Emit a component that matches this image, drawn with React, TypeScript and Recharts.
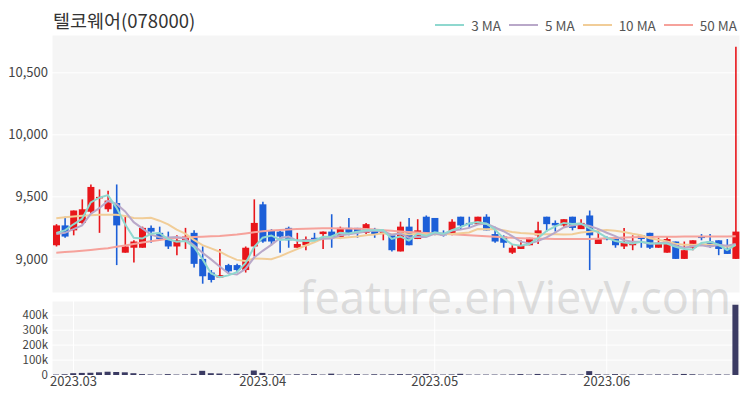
import React from 'react';
import { ComposedChart, Bar, Line, XAxis, YAxis, CartesianGrid } from 'recharts';

const dates = [
  '2023-02-27','2023-02-28','2023-03-02','2023-03-03','2023-03-06','2023-03-07','2023-03-08','2023-03-09','2023-03-10','2023-03-13',
  '2023-03-14','2023-03-15','2023-03-16','2023-03-17','2023-03-20','2023-03-21','2023-03-22','2023-03-23','2023-03-24','2023-03-27',
  '2023-03-28','2023-03-29','2023-03-30','2023-03-31','2023-04-03','2023-04-04','2023-04-05','2023-04-06','2023-04-07','2023-04-10',
  '2023-04-11','2023-04-12','2023-04-13','2023-04-14','2023-04-17','2023-04-18','2023-04-19','2023-04-20','2023-04-21','2023-04-24',
  '2023-04-25','2023-04-26','2023-04-27','2023-04-28','2023-05-02','2023-05-03','2023-05-04','2023-05-08','2023-05-09','2023-05-10',
  '2023-05-11','2023-05-12','2023-05-15','2023-05-16','2023-05-17','2023-05-18','2023-05-19','2023-05-22','2023-05-23','2023-05-24',
  '2023-05-25','2023-05-26','2023-05-30','2023-05-31','2023-06-01','2023-06-02','2023-06-05','2023-06-07','2023-06-08','2023-06-09',
  '2023-06-12','2023-06-13','2023-06-14','2023-06-15','2023-06-16','2023-06-19','2023-06-20','2023-06-21','2023-06-22','2023-06-23',
];

const opens = [
  9110, 9270, 9230, 9290, 9380, 9490, 9400, 9450, 9050, 9090,
  9090, 9250, 9210, 9170, 9100, 9150, 9210, 9000, 8890, 8850,
  8950, 8950, 8910, 9100, 9440, 9230, 9220, 9250, 9090, 9110,
  9170, 9200, 9220, 9170, 9250, 9250, 9210, 9230, 9200, 9190,
  9060, 9260, 9160, 9340, 9330, 9210, 9200, 9340, 9290, 9280,
  9340, 9200, 9180, 9050, 9080, 9110, 9190, 9340, 9290, 9270,
  9340, 9240, 9350, 9120, 9170, 9160, 9100, 9110, 9190, 9210,
  9090, 9050, 9140, 9000, 9090, 9180, 9140, 9150, 9080, 9000,
];
const highs = [
  9280, 9340, 9390, 9480, 9600, 9560, 9550, 9600, 9340, 9150,
  9260, 9270, 9260, 9220, 9190, 9250, 9230, 9100, 8910, 9080,
  8960, 8960, 9100, 9480, 9460, 9240, 9230, 9260, 9210, 9180,
  9210, 9220, 9360, 9260, 9330, 9250, 9290, 9250, 9220, 9200,
  9300, 9330, 9320, 9350, 9330, 9230, 9320, 9340, 9340, 9340,
  9360, 9260, 9190, 9110, 9150, 9170, 9300, 9340, 9310, 9320,
  9340, 9320, 9390, 9240, 9180, 9170, 9250, 9190, 9190, 9210,
  9170, 9180, 9140, 9140, 9150, 9200, 9200, 9150, 9160, 10710,
];
const lows = [
  9100, 9170, 9190, 9280, 9370, 9210, 9380, 8950, 9050, 8970,
  9090, 9130, 9150, 9080, 9030, 9080, 8930, 8800, 8810, 8850,
  8880, 8890, 8890, 9020, 9130, 9110, 9050, 9090, 9090, 9070,
  9150, 9080, 9090, 9160, 9190, 9170, 9200, 9170, 9150, 9060,
  9060, 9110, 9160, 9210, 9190, 9180, 9190, 9240, 9250, 9280,
  9230, 9130, 9090, 9040, 9080, 9110, 9120, 9220, 9220, 9260,
  9230, 9240, 8910, 9120, 9150, 9090, 9080, 9070, 9090, 9080,
  9090, 9050, 9000, 9000, 9070, 9150, 9090, 9030, 9040, 9000,
];
const closes = [
  9270, 9180, 9390, 9400, 9580, 9500, 9470, 9270, 9100, 9140,
  9250, 9220, 9160, 9100, 9150, 9180, 8960, 8860, 8830, 8870,
  8900, 8910, 9090, 9290, 9140, 9140, 9180, 9150, 9120, 9160,
  9160, 9220, 9170, 9250, 9200, 9210, 9280, 9200, 9220, 9070,
  9260, 9110, 9230, 9210, 9200, 9190, 9300, 9270, 9280, 9340,
  9230, 9140, 9130, 9090, 9110, 9170, 9230, 9280, 9270, 9320,
  9250, 9290, 9190, 9160, 9160, 9110, 9130, 9130, 9160, 9090,
  9130, 9160, 9000, 9070, 9150, 9170, 9100, 9080, 9040, 9220,
];
const volumes = [
  3000, 5000, 12000, 14000, 15000, 18000, 22000, 20000, 18000, 12000,
  6000, 4000, 3000, 6000, 3000, 4000, 8000, 28000, 12000, 10000,
  4000, 8000, 6000, 30000, 14000, 4000, 6000, 3000, 5000, 4000,
  6000, 3000, 9000, 3000, 4000, 6000, 3000, 5000, 4000, 5000,
  6000, 5000, 4000, 7000, 4000, 3000, 4000, 8000, 3000, 3000,
  3000, 3000, 3000, 4000, 6000, 3000, 7000, 4000, 3000, 5000,
  3000, 4000, 26000, 5000, 3000, 6000, 3000, 3000, 5000, 3000,
  4000, 3000, 5000, 7000, 5000, 3000, 3000, 4000, 3000, 470000,
];
const ma3 = [
  9210, 9230, 9279, 9323, 9455, 9493, 9514, 9413, 9279, 9170,
  9164, 9202, 9209, 9158, 9138, 9144, 9097, 8998, 8882, 8853,
  8867, 8893, 8965, 9095, 9171, 9189, 9153, 9158, 9151, 9144,
  9147, 9178, 9181, 9210, 9204, 9219, 9230, 9231, 9232, 9161,
  9181, 9147, 9202, 9186, 9215, 9202, 9231, 9256, 9285, 9297,
  9283, 9237, 9167, 9117, 9106, 9120, 9167, 9225, 9261, 9290,
  9281, 9286, 9246, 9214, 9171, 9144, 9133, 9124, 9139, 9126,
  9124, 9124, 9097, 9079, 9075, 9129, 9138, 9115, 9072, 9113,
];
const ma5 = [
  9200, 9210, 9240, 9270, 9363, 9409, 9467, 9443, 9383, 9296,
  9246, 9195, 9174, 9173, 9176, 9162, 9110, 9049, 8996, 8939,
  8883, 8874, 8919, 9011, 9065, 9113, 9167, 9180, 9147, 9151,
  9155, 9162, 9165, 9190, 9198, 9208, 9221, 9228, 9222, 9195,
  9205, 9171, 9178, 9177, 9204, 9190, 9228, 9236, 9250, 9277,
  9285, 9253, 9223, 9184, 9139, 9125, 9143, 9174, 9211, 9253,
  9270, 9282, 9265, 9242, 9211, 9183, 9150, 9138, 9138, 9123,
  9126, 9132, 9107, 9090, 9102, 9110, 9098, 9113, 9106, 9121,
];
const ma10 = [
  9328, 9335, 9342, 9348, 9352, 9355, 9356, 9355, 9345, 9329,
  9328, 9331, 9308, 9278, 9236, 9204, 9153, 9111, 9085, 9058,
  9022, 8992, 8984, 9003, 9002, 8998, 9020, 9050, 9079, 9108,
  9134, 9164, 9172, 9168, 9174, 9181, 9191, 9196, 9206, 9197,
  9206, 9196, 9203, 9199, 9199, 9198, 9200, 9207, 9213, 9240,
  9238, 9240, 9230, 9217, 9208, 9205, 9198, 9198, 9198, 9196,
  9198, 9213, 9219, 9227, 9232, 9227, 9216, 9202, 9190, 9167,
  9154, 9141, 9122, 9114, 9113, 9118, 9115, 9110, 9098, 9112,
];
const ma50 = [
  9050, 9055, 9060, 9066, 9072, 9079, 9086, 9097, 9108, 9120,
  9132, 9142, 9152, 9162, 9168, 9172, 9176, 9179, 9182, 9185,
  9190, 9196, 9205, 9215, 9222, 9228, 9233, 9237, 9240, 9243,
  9245, 9247, 9247, 9246, 9245, 9243, 9240, 9236, 9231, 9226,
  9221, 9216, 9212, 9208, 9205, 9202, 9198, 9194, 9190, 9186,
  9182, 9178, 9174, 9170, 9167, 9165, 9163, 9162, 9161, 9160,
  9160, 9160, 9161, 9163, 9166, 9169, 9172, 9174, 9176, 9177,
  9178, 9179, 9179, 9180, 9180, 9180, 9181, 9181, 9181, 9182,
];

const monthTicks = ['2023-03-02', '2023-04-03', '2023-05-02', '2023-06-01'];
const priceTicks = [9000, 9500, 10000, 10500];
const volumeTicks = [0, 100000, 200000, 300000, 400000];

const seriesNames = ['3 MA', '5 MA', '10 MA', '50 MA'];
const seriesColors = ['#8fd8cf', '#b9a8c9', '#f1cd98', '#f6a29b'];

const UP = '#e8161b';
const DOWN = '#1c5fd8';
const FONT = "'Noto Sans CJK KR', 'Noto Sans', sans-serif";

const data = dates.map((d, i) => ({
  date: d,
  open: opens[i],
  high: highs[i],
  low: lows[i],
  close: closes[i],
  range: [lows[i], highs[i]],
  volume: volumes[i],
  ma3: ma3[i],
  ma5: ma5[i],
  ma10: ma10[i],
  ma50: ma50[i],
}));

const Candle = (props: any) => {
  const { x, y, width, height, payload } = props;
  if (x == null || y == null) return null;
  const { open, close, high, low } = payload;
  const up = close >= open;
  const color = up ? UP : DOWN;
  const top = Math.min(y, y + height);
  const h = Math.abs(height);
  const span = high - low;
  const yOf = (v: number) => (span === 0 ? top : top + ((high - v) / span) * h);
  const bTop = yOf(Math.max(open, close));
  const bBot = yOf(Math.min(open, close));
  const cx = x + width / 2;
  return (
    <g>
      <line x1={cx} x2={cx} y1={top} y2={top + h} stroke={color} strokeWidth={1.6} />
      <rect x={x} y={bTop} width={width} height={Math.max(bBot - bTop, 1.5)} fill={color} />
    </g>
  );
};

const fmtMonth = (d: string) => d.slice(0, 7).replace('-', '.');
const fmtPrice = (v: number) => v.toLocaleString('en-US');
const fmtVol = (v: number) => (v === 0 ? '0' : `${v / 1000}k`);

const tickStyle = { fontSize: 13, fill: '#444', fontFamily: FONT };
const volTickStyle = { fontSize: 11.5, fill: '#444', fontFamily: FONT };
const xTickStyle = { fontSize: 13, fill: '#444', fontFamily: FONT };

export default function App() {
  return (
    <div style={{ position: 'absolute', left: 0, top: 0, width: 750, height: 400, background: '#fff', overflow: 'hidden', fontFamily: FONT }}>
      <div style={{ position: 'absolute', left: 0, top: 0 }}>
        <ComposedChart width={750} height={300} data={data} margin={{ top: 35, right: 10, bottom: 7, left: 0 }} barSize={7}>
          <CartesianGrid fill="#f5f5f5" stroke="#ffffff" strokeWidth={1} />
          <XAxis dataKey="date" ticks={monthTicks} tick={false} tickLine={false} axisLine={false} height={0} />
          <YAxis
            domain={[8725, 10805]}
            ticks={priceTicks}
            tickFormatter={fmtPrice}
            width={52}
            tickSize={0}
            tickMargin={4}
            axisLine={false}
            tickLine={false}
            tick={tickStyle}
            interval={0}
            allowDataOverflow
          />
          <Bar dataKey="range" shape={<Candle />} isAnimationActive={false} />
          <Line dataKey="ma50" stroke={seriesColors[3]} strokeWidth={2} dot={false} isAnimationActive={false} />
          <Line dataKey="ma10" stroke={seriesColors[2]} strokeWidth={2} dot={false} isAnimationActive={false} />
          <Line dataKey="ma5" stroke={seriesColors[1]} strokeWidth={2} dot={false} isAnimationActive={false} />
          <Line dataKey="ma3" stroke={seriesColors[0]} strokeWidth={2} dot={false} isAnimationActive={false} />
        </ComposedChart>
      </div>
      <div style={{ position: 'absolute', left: 0, top: 295 }}>
        <ComposedChart width={750} height={105} data={data} margin={{ top: 6, right: 10, bottom: 0, left: 0 }} barSize={6}>
          <CartesianGrid fill="#f5f5f5" stroke="#ffffff" strokeWidth={1} />
          <XAxis
            dataKey="date"
            ticks={monthTicks}
            tickFormatter={fmtMonth}
            tickLine={false}
            axisLine={false}
            tickSize={0}
            tickMargin={2}
            height={25}
            tick={xTickStyle}
            interval={0}
          />
          <YAxis
            domain={[0, 495000]}
            ticks={volumeTicks}
            tickFormatter={fmtVol}
            width={52}
            tickSize={0}
            tickMargin={4}
            axisLine={false}
            tickLine={false}
            tick={volTickStyle}
            interval={0}
          />
          <Bar dataKey="volume" fill="#3b3b63" isAnimationActive={false} />
        </ComposedChart>
      </div>
      <div style={{ position: 'absolute', left: 53, top: 7, fontSize: 18.5, color: '#333', whiteSpace: 'nowrap' }}>
        텔코웨어(078000)
      </div>
      <div style={{ position: 'absolute', right: 13, top: 15, display: 'flex', alignItems: 'center', fontSize: 13.5, color: '#555' }}>
        {seriesNames.map((n, i) => (
          <div key={n} style={{ display: 'flex', alignItems: 'center', marginLeft: 8 }}>
            <div style={{ width: 29, height: 2, background: seriesColors[i], marginRight: 7 }} />
            <span>{n}</span>
          </div>
        ))}
      </div>
      <div
        style={{
          position: 'absolute',
          left: 299,
          top: 266,
          fontSize: 45,
          color: 'rgba(150,150,150,0.28)',
          fontFamily: "'Noto Sans', sans-serif",
          whiteSpace: 'nowrap',
          pointerEvents: 'none',
        }}
      >
        feature.enVievV.com
      </div>
    </div>
  );
}
